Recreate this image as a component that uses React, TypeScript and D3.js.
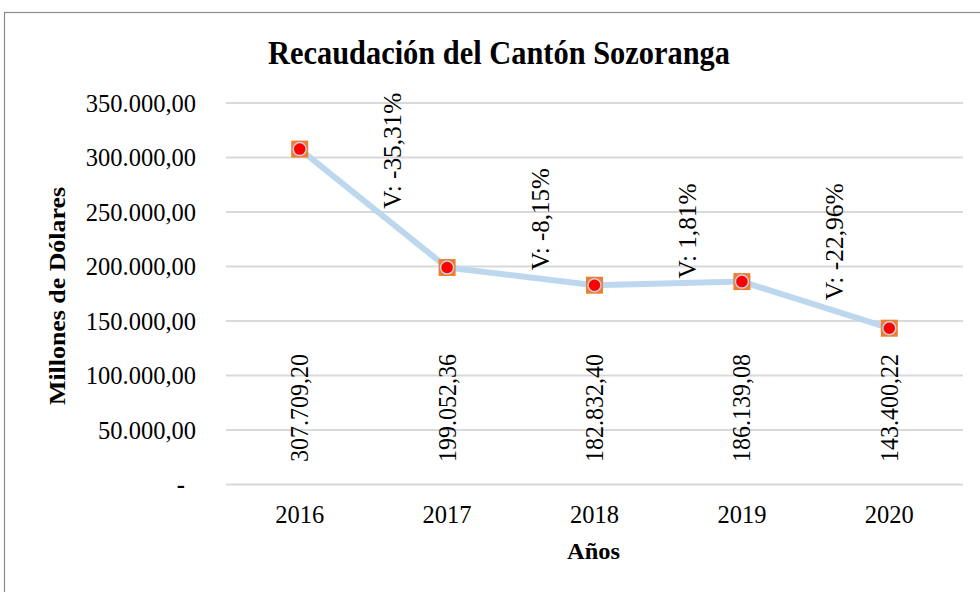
import React from "react";
import * as d3 from "d3";

const years = ["2016", "2017", "2018", "2019", "2020"];
const recaudacion = [307709.2, 199052.36, 182832.4, 186139.08, 143400.22];
const valueLabels = ["307.709,20", "199.052,36", "182.832,40", "186.139,08", "143.400,22"];
const variationLabels = ["V: -35,31%", "V: -8,15%", "V: 1,81%", "V: -22,96%"];
const variationAnchors = [253000, 196500, 189000, 169000];
const yTicks = [0, 50000, 100000, 150000, 200000, 250000, 300000, 350000];
const yTickLabels = ["-", "50.000,00", "100.000,00", "150.000,00", "200.000,00", "250.000,00", "300.000,00", "350.000,00"];

const W = 980;
const H = 592;
const FONT = "'Liberation Serif', 'Times New Roman', serif";
const variationLengths = [116, 102, 95, 117];

export default function App() {
  const x = d3.scaleBand<string>().domain(years).range([226, 963]);
  const y = d3.scaleLinear().domain([0, 350000]).range([484.5, 103]);
  const cx = (yr: string) => (x(yr) as number) + x.bandwidth() / 2;
  const line = d3
    .line<number>()
    .x((_, i) => cx(years[i]))
    .y((d) => y(d));

  return (
    <svg
      width={W}
      height={H}
      style={{ position: "absolute", left: 0, top: 0, background: "#fff" }}
      fontFamily={FONT}
    >
      <rect x={4.5} y={12.5} width={W + 10} height={H + 10} fill="#fff" stroke="#8c8c8c" strokeWidth={1.2} />
      <text
        x={499}
        y={64}
        textAnchor="middle"
        fontSize={33}
        fontWeight="bold"
        fill="#000"
        textLength={462}
        lengthAdjust="spacingAndGlyphs"
      >
        Recaudación del Cantón Sozoranga
      </text>
      {yTicks.map((t, i) => (
        <g key={t}>
          <line x1={226} x2={963} y1={y(t)} y2={y(t)} stroke="#d9d9d9" strokeWidth={2} />
          <text
            x={t === 0 ? 185 : 196}
            y={y(t)}
            dy="0.35em"
            textAnchor="end"
            fontSize={24.5}
            fontWeight={t === 0 ? "bold" : "normal"}
            fill="#000"
          >
            {yTickLabels[i]}
          </text>
        </g>
      ))}
      {years.map((yr) => (
        <text key={yr} x={cx(yr)} y={523} textAnchor="middle" fontSize={24.5} fill="#000">
          {yr}
        </text>
      ))}
      <text
        x={593.5}
        y={559}
        textAnchor="middle"
        fontSize={24}
        fontWeight="bold"
        fill="#000"
        textLength={53}
        lengthAdjust="spacingAndGlyphs"
      >
        Años
      </text>
      <text
        transform={`translate(65,296) rotate(-90)`}
        textAnchor="middle"
        fontSize={24}
        fontWeight="bold"
        fill="#000"
        textLength={218}
        lengthAdjust="spacingAndGlyphs"
      >
        Millones de Dólares
      </text>
      <path d={line(recaudacion) || ""} fill="none" stroke="#bdd7ee" strokeWidth={6} strokeLinejoin="round" />
      {recaudacion.map((v, i) => (
        <g key={i}>
          <rect x={cx(years[i]) - 8.5} y={y(v) - 8.5} width={17} height={17} fill="#ed7d31" />
          <circle cx={cx(years[i])} cy={y(v)} r={6.5} fill="#ff0000" stroke="#c5cfe0" strokeWidth={1.5} />
        </g>
      ))}
      {valueLabels.map((lbl, i) => (
        <text
          key={lbl}
          transform={`translate(${cx(years[i]) + 8.5},462) rotate(-90)`}
          textAnchor="start"
          fontSize={25}
          fill="#000"
          textLength={108}
          lengthAdjust="spacingAndGlyphs"
        >
          {lbl}
        </text>
      ))}
      {variationLabels.map((lbl, i) => (
        <text
          key={lbl}
          transform={`translate(${cx(years[i + 1]) - 46},${y(variationAnchors[i])}) rotate(-90)`}
          textAnchor="start"
          fontSize={25}
          fill="#000"
          textLength={variationLengths[i]}
          lengthAdjust="spacingAndGlyphs"
        >
          {lbl}
        </text>
      ))}
    </svg>
  );
}
